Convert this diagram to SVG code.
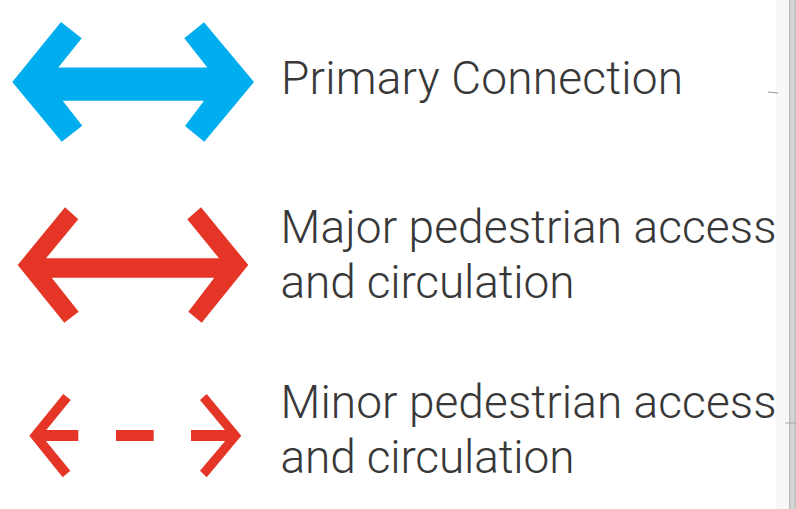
<svg xmlns="http://www.w3.org/2000/svg" width="796" height="509" viewBox="0 0 796 509">
<style>
.lbl{font-family:Roboto,"Liberation Sans",Arial,sans-serif;font-weight:300;font-size:46px;fill:#383838}
.blue{fill:#00AEEF}
.red{fill:#E43526}
</style>
<rect x="0" y="0" width="796" height="509" fill="#ffffff"/>
<rect x="776" y="0" width="13" height="509" fill="#f8f8f8"/>
<rect x="789" y="0" width="7" height="509" fill="#d6d6d6"/>
<rect x="789" y="0" width="1.5" height="509" fill="#bdbdbd"/>
<rect x="794" y="0" width="2" height="509" fill="#c4c4c4"/>
<line x1="768" y1="92" x2="778" y2="93" stroke="#9a9a9a" stroke-width="1.2"/>
<line x1="785" y1="423" x2="796" y2="423" stroke="#a8a8a8" stroke-width="1"/>
<g id="connectors">
<g id="primary-arrow">
<polygon class="blue" points="12.3,82 61,22 81.7,38.3 58.3,67.5 207.3,67.5 184.3,38.3 204,22.3 254,82 204.3,141.7 185,126 204,100.7 62.7,100.7 82.3,125.7 61.7,141.7"/>
</g>
<g id="major-arrow">
<polygon class="red" points="17.7,265 65,207.3 78.3,219.3 46,258.3 219,258.3 187.3,219.3 201,207.3 248.3,265 201.7,322.7 188.3,311.7 214.3,277.7 51.7,277.7 78.7,311.7 64.3,322.7"/>
</g>
<g id="minor-arrow">
<polygon class="red" points="29.3,435.7 63.3,394 70.7,400 41.6,435.7 70.3,470.7 62.7,477.3"/>
<rect class="red" x="38" y="430" width="40.3" height="11"/>
<rect class="red" x="116" y="430" width="37.7" height="11"/>
<rect class="red" x="191" y="430" width="42" height="11"/>
<polygon class="red" points="241.3,435.7 206.7,394 200,400 229.6,435.7 200,470.7 206.7,477.3"/>
</g>
</g>
<g id="primary-label">
<text class="lbl" x="281" y="94.3" textLength="402" lengthAdjust="spacing">Primary Connection</text>
</g>
<g id="major-label">
<text class="lbl" x="280.5" y="242.7" textLength="496" lengthAdjust="spacing">Major pedestrian access</text>
<text class="lbl" x="280.5" y="298.3" textLength="294" lengthAdjust="spacing">and circulation</text>
</g>
<g id="minor-label">
<text class="lbl" x="280.5" y="417.7" textLength="496" lengthAdjust="spacing">Minor pedestrian access</text>
<text class="lbl" x="280.5" y="473.3" textLength="294" lengthAdjust="spacing">and circulation</text>
</g>
</svg>
